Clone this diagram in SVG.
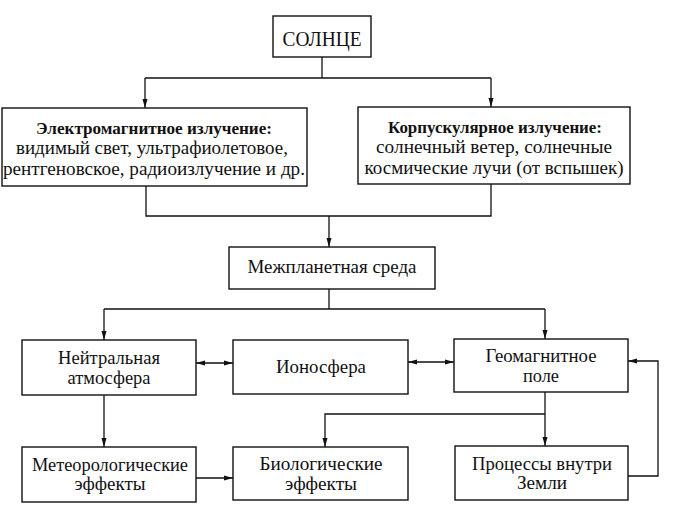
<svg xmlns="http://www.w3.org/2000/svg" width="679" height="511" viewBox="0 0 679 511">
<style>
.box{fill:#fff;stroke:#111;stroke-width:1.4}
.ln{fill:none;stroke:#111;stroke-width:1.3}
text{font-family:'Liberation Serif','Times New Roman','DejaVu Serif',serif;fill:#111;text-anchor:middle}
.b{font-weight:bold}
</style>
<defs>
<marker id="ah" markerUnits="userSpaceOnUse" markerWidth="10" markerHeight="8" refX="9" refY="3" orient="auto-start-reverse" viewBox="0 0 10 6">
<path d="M0,0.5 L9,3 L0,5.5 z" fill="#111"/>
</marker>
</defs>
<rect width="679" height="511" fill="#fff"/>
<g id="connectors">
<path class="ln" d="M322,57 V78"/>
<path class="ln" d="M145,78 H491"/>
<path class="ln" d="M145,78 V108" marker-end="url(#ah)"/>
<path class="ln" d="M491,78 V107" marker-end="url(#ah)"/>
<path class="ln" d="M146,186 V216 H491 V184"/>
<path class="ln" d="M329,216 V247" marker-end="url(#ah)"/>
<path class="ln" d="M329,289 V309"/>
<path class="ln" d="M104,309 H545"/>
<path class="ln" d="M104,309 V340" marker-end="url(#ah)"/>
<path class="ln" d="M545,309 V339" marker-end="url(#ah)"/>
<path class="ln" d="M196,363 H233" marker-start="url(#ah)" marker-end="url(#ah)"/>
<path class="ln" d="M408,362 H454" marker-start="url(#ah)" marker-end="url(#ah)"/>
<path class="ln" d="M104,395 V447" marker-end="url(#ah)"/>
<path class="ln" d="M196,478 H233" marker-end="url(#ah)"/>
<path class="ln" d="M545,392 V446" marker-end="url(#ah)"/>
<path class="ln" d="M545,414 H325 V447" marker-end="url(#ah)"/>
<path class="ln" d="M628,476 H658 V361 H628" marker-end="url(#ah)"/>
</g>
<g id="sun">
<rect class="box" x="273" y="16" width="98" height="41"/>
<text x="322" y="46" font-size="20" textLength="79" lengthAdjust="spacingAndGlyphs">СОЛНЦЕ</text>
</g>
<g id="em">
<rect class="box" x="2" y="108" width="305" height="78"/>
<text class="b" x="154" y="134" font-size="17" textLength="236" lengthAdjust="spacingAndGlyphs">Электромагнитное излучение:</text>
<text x="152" y="154" font-size="18" textLength="272" lengthAdjust="spacingAndGlyphs">видимый свет, ультрафиолетовое,</text>
<text x="154" y="175" font-size="18" textLength="302" lengthAdjust="spacingAndGlyphs">рентгеновское, радиоизлучение и др.</text>
</g>
<g id="corp">
<rect class="box" x="358" y="107" width="272" height="77"/>
<text class="b" x="495" y="133" font-size="17" textLength="214" lengthAdjust="spacingAndGlyphs">Корпускулярное излучение:</text>
<text x="494" y="153" font-size="18" textLength="236" lengthAdjust="spacingAndGlyphs">солнечный ветер, солнечные</text>
<text x="494" y="174" font-size="18" textLength="259" lengthAdjust="spacingAndGlyphs">космические лучи (от вспышек)</text>
</g>
<g id="inter">
<rect class="box" x="229" y="247" width="206" height="42"/>
<text x="332" y="273" font-size="19" textLength="169" lengthAdjust="spacingAndGlyphs">Межпланетная среда</text>
</g>
<g id="atm">
<rect class="box" x="22" y="340" width="174" height="55"/>
<text x="109" y="364" font-size="19" textLength="102" lengthAdjust="spacingAndGlyphs">Нейтральная</text>
<text x="109" y="384" font-size="19" textLength="83" lengthAdjust="spacingAndGlyphs">атмосфера</text>
</g>
<g id="iono">
<rect class="box" x="233" y="340" width="175" height="54"/>
<text x="321" y="373" font-size="19" textLength="90" lengthAdjust="spacingAndGlyphs">Ионосфера</text>
</g>
<g id="geo">
<rect class="box" x="454" y="339" width="174" height="53"/>
<text x="541" y="362" font-size="19" textLength="111" lengthAdjust="spacingAndGlyphs">Геомагнитное</text>
<text x="541" y="382" font-size="19" textLength="36" lengthAdjust="spacingAndGlyphs">поле</text>
</g>
<g id="meteo">
<rect class="box" x="22" y="447" width="174" height="55"/>
<text x="110" y="471" font-size="19" textLength="156" lengthAdjust="spacingAndGlyphs">Метеорологические</text>
<text x="110" y="490" font-size="19" textLength="71" lengthAdjust="spacingAndGlyphs">эффекты</text>
</g>
<g id="bio">
<rect class="box" x="233" y="447" width="175" height="53"/>
<text x="321" y="470" font-size="19" textLength="123" lengthAdjust="spacingAndGlyphs">Биологические</text>
<text x="321" y="490" font-size="19" textLength="72" lengthAdjust="spacingAndGlyphs">эффекты</text>
</g>
<g id="earth">
<rect class="box" x="455" y="446" width="173" height="54"/>
<text x="542" y="470" font-size="19" textLength="140" lengthAdjust="spacingAndGlyphs">Процессы внутри</text>
<text x="542" y="489" font-size="19" textLength="50" lengthAdjust="spacingAndGlyphs">Земли</text>
</g>
</svg>
